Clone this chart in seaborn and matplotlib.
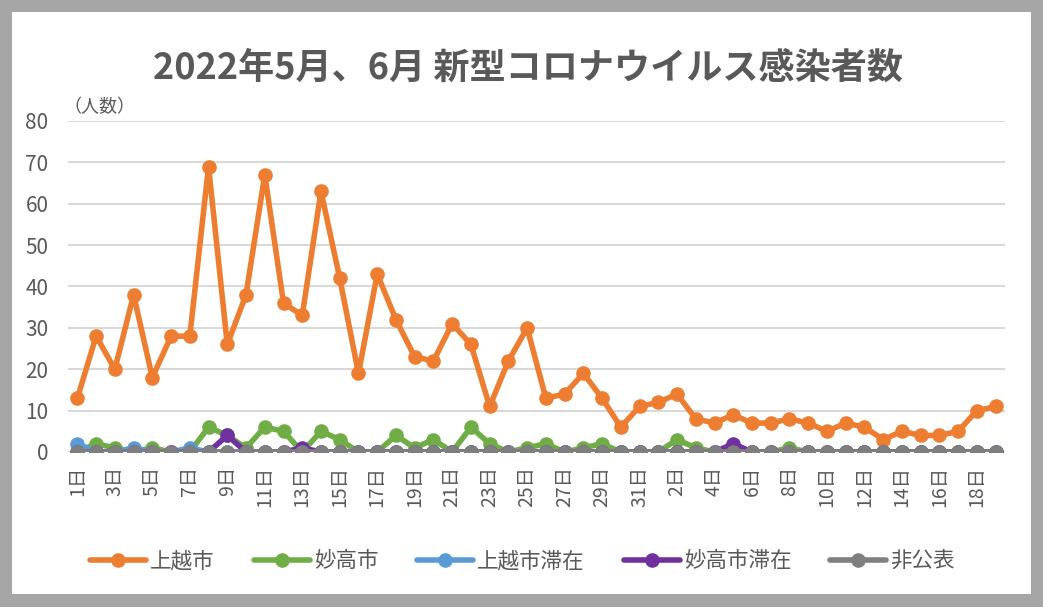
import numpy as np
import pandas as pd
import matplotlib
matplotlib.use('Agg')
import matplotlib.pyplot as plt
import seaborn as sns
from matplotlib.patches import Rectangle

# dates: May 1-31, June 1-19
days = [f'{d}日' for d in range(1, 32)] + [f'{d}日' for d in range(1, 20)]

joetsu = [13, 28, 20, 38, 18, 28, 28, 69, 26, 38, 67, 36, 33, 63, 42, 19, 43, 32, 23, 22,
          31, 26, 11, 22, 30, 13, 14, 19, 13, 6, 11,
          12, 14, 8, 7, 9, 7, 7, 8, 7, 5, 7, 6, 3, 5, 4, 4, 5, 10, 11]
myoko = [0, 2, 1, 0, 1, 0, 0, 6, 4, 1, 6, 5, 0, 5, 3, 0, 0, 4, 1, 3,
         0, 6, 2, 0, 1, 2, 0, 1, 2, 0, 0,
         0, 3, 1, 0, 0, 0, 0, 1, 0, 0, 0, 0, 0, 0, 0, 0, 0, 0, 0]
joetsu_stay = [2, 0, 0, 1, 0, 0, 1, 0, 0, 0, 0, 0, 0, 0, 0, 0, 0, 0, 0, 0,
               0, 0, 0, 0, 0, 0, 0, 0, 0, 0, 0,
               0, 0, 0, 0, 0, 0, 0, 0, 0, 0, 0, 0, 0, 0, 0, 0, 0, 0, 0]
myoko_stay = [0, 0, 0, 0, 0, 0, 0, 0, 4, 0, 0, 0, 1, 0, 0, 0, 0, 0, 0, 0,
              0, 0, 0, 0, 0, 0, 0, 0, 0, 0, 0,
              0, 0, 0, 0, 2, 0, 0, 0, 0, 0, 0, 0, 0, 0, 0, 0, 0, 0, 0]
private = [0] * 50

series = ['上越市', '妙高市', '上越市滞在', '妙高市滞在', '非公表']
values = [joetsu, myoko, joetsu_stay, myoko_stay, private]
colors = ['#ED7D31', '#70AD47', '#5B9BD5', '#7030A0', '#7F7F7F']

sns.set_style('white')
plt.rcParams['font.family'] = ['Noto Sans CJK JP', 'DejaVu Sans']

W, H = 1043, 607
fig = plt.figure(figsize=(W / 100, H / 100), dpi=100)
fig.patch.set_facecolor('#A6A6A6')
fig.patches.append(Rectangle((12 / W, 13 / H), 1 - 24 / W, 1 - 25 / H,
                             transform=fig.transFigure, facecolor='white',
                             edgecolor='none', zorder=-1))

ax = fig.add_axes([68 / W, (H - 452) / H, (1005 - 68) / W, (452 - 121) / H])
ax.set_facecolor('white')

x = np.arange(len(days))
for name, vals, col in zip(series, values, colors):
    sns.lineplot(x=x, y=vals, ax=ax, color=col, linewidth=4, marker='o',
                 markersize=10.5, markeredgewidth=0, label=name)

ax.set_xlim(-0.5, len(days) - 0.5)
ax.set_ylim(0, 80)
ax.set_yticks(range(0, 81, 10))
ax.set_xticks(x[::2])
ax.set_xticklabels(days[::2], rotation=90, va='top', ha='center')
ax.tick_params(axis='y', labelsize=15, labelcolor='#595959', length=0, pad=14)
ax.tick_params(axis='x', labelsize=14, labelcolor='#595959', length=0, pad=10)
ax.yaxis.grid(True, color='#D9D9D9', linewidth=1.5)
ax.set_axisbelow(True)
for s in ax.spines.values():
    s.set_visible(False)
ax.set_xlabel('')
ax.set_ylabel('')

ax.text(-0.005, 1.015, '（人数）', transform=ax.transAxes, fontsize=13,
        color='#595959', ha='left', va='bottom')

fig.text(528 / W, 1 - 68 / H, '2022年5月、6月 新型コロナウイルス感染者数',
         fontsize=26, fontweight='bold', color='#595959', ha='center', va='center')

ax.legend(loc='center', bbox_to_anchor=(0.485, -0.33), ncol=5, frameon=False,
          fontsize=15.5, labelcolor='#595959', handlelength=2.6, columnspacing=1.8,
          handletextpad=0.2)

fig.savefig('out.png', dpi=100, facecolor=fig.get_facecolor())
